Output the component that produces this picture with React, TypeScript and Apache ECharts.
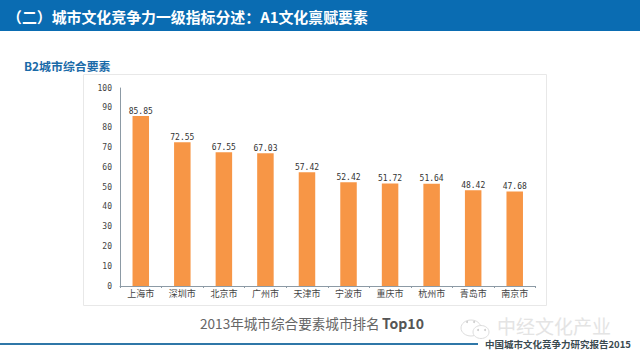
import React, { useEffect, useRef } from "react";
import * as echarts from "echarts";

const cities = ["上海市", "深圳市", "北京市", "广州市", "天津市", "宁波市", "重庆市", "杭州市", "青岛市", "南京市"];
const scores = [85.85, 72.55, 67.55, 67.03, 57.42, 52.42, 51.72, 51.64, 48.42, 47.68];
const headerTitle = "（二）城市文化竞争力一级指标分述：A1文化禀赋要素";
const sectionTitle = "B2城市综合要素";
const captionYear = "2013年城市综合要素城市排名";
const captionTop = "Top10";
const watermark = "中经文化产业";
const footer = "中国城市文化竞争力研究报告2015";

const CJK = '"Noto Sans CJK SC", "Noto Sans", sans-serif';
const MONO = '"DejaVu Sans Mono", monospace';

export default function App() {
  const ref = useRef<HTMLDivElement>(null);
  useEffect(() => {
    const chart = echarts.init(ref.current!, undefined, { renderer: "svg" });
    chart.setOption({
      animation: false,
      backgroundColor: "#ffffff",
      grid: { left: 120, right: 104.5, top: 88, bottom: 74 },
      xAxis: {
        type: "category",
        data: cities,
        axisLine: { lineStyle: { color: "#8c9aa5", width: 1 } },
        axisTick: { show: true, length: 2, alignWithLabel: false, lineStyle: { color: "#8c9aa5" } },
        axisLabel: { color: "#444", fontSize: 9, fontFamily: CJK, margin: 3, interval: 0 },
      },
      yAxis: {
        type: "value",
        min: 0,
        max: 100,
        interval: 10,
        splitLine: { show: false },
        axisLine: { show: true, lineStyle: { color: "#8c9aa5", width: 1 } },
        axisTick: { show: false },
        axisLabel: { color: "#444", fontSize: 8, fontFamily: MONO, margin: 8, padding: [0, 0, 2, 0] },
      },
      series: [
        {
          type: "bar",
          data: scores,
          barWidth: 16.5,
          itemStyle: { color: "#f79646" },
          label: {
            show: true,
            position: "top",
            distance: 1,
            color: "#333",
            fontSize: 8,
            fontFamily: MONO,
            formatter: (p: any) => p.value.toFixed(2),
          },
        },
      ],
      graphic: [
        { type: "rect", z: -1, shape: { x: 0, y: 0, width: 640, height: 31 }, style: { fill: "#0a6cb2" } },
        { type: "text", x: 7, y: 16, style: { text: headerTitle, fill: "#fff", font: `bold 14.9px ${CJK}`, textVerticalAlign: "middle" } },
        { type: "text", x: 24, y: 65, style: { text: sectionTitle, fill: "#1a6aa8", font: `bold 11.9px ${CJK}`, textVerticalAlign: "middle" } },
        { type: "rect", z: -1, shape: { x: 83.5, y: 74.5, width: 463, height: 231 }, style: { fill: "#fff", stroke: "#e8e8e8", lineWidth: 1 } },
        { type: "text", x: 200, y: 323, style: { text: captionYear, fill: "#666", font: `13.6px ${CJK}`, textVerticalAlign: "middle" } },
        { type: "text", x: 382, y: 323, style: { text: captionTop, fill: "#555", font: `bold 14px ${CJK}`, textVerticalAlign: "middle" } },
        { type: "rect", shape: { x: 0, y: 343, width: 478, height: 2 }, style: { fill: "#2f77a8" } },
        { type: "ellipse", shape: { cx: 471, cy: 328, rx: 10, ry: 8 }, style: { fill: "none", stroke: "#ddd", lineWidth: 1 } },
        { type: "ellipse", shape: { cx: 481, cy: 332, rx: 8, ry: 6.5 }, style: { fill: "#fff", stroke: "#ddd", lineWidth: 1 } },
        { type: "circle", shape: { cx: 467, cy: 322, r: 1 }, style: { fill: "#ccc" } },
        { type: "circle", shape: { cx: 474, cy: 322, r: 1 }, style: { fill: "#ccc" } },
        { type: "circle", shape: { cx: 478, cy: 330, r: 1 }, style: { fill: "#ccc" } },
        { type: "circle", shape: { cx: 485, cy: 330, r: 1 }, style: { fill: "#ccc" } },
        { type: "text", x: 497, y: 325, style: { text: watermark, fill: "#e4e4e4", font: `19px ${CJK}`, textVerticalAlign: "middle" } },
        { type: "text", x: 485, y: 344, style: { text: footer, fill: "#3a4a50", font: `bold 9.5px ${CJK}`, textVerticalAlign: "middle" } },
      ],
    });
    return () => chart.dispose();
  }, []);
  return <div ref={ref} style={{ position: "absolute", left: 0, top: 0, width: 640, height: 360 }} />;
}
